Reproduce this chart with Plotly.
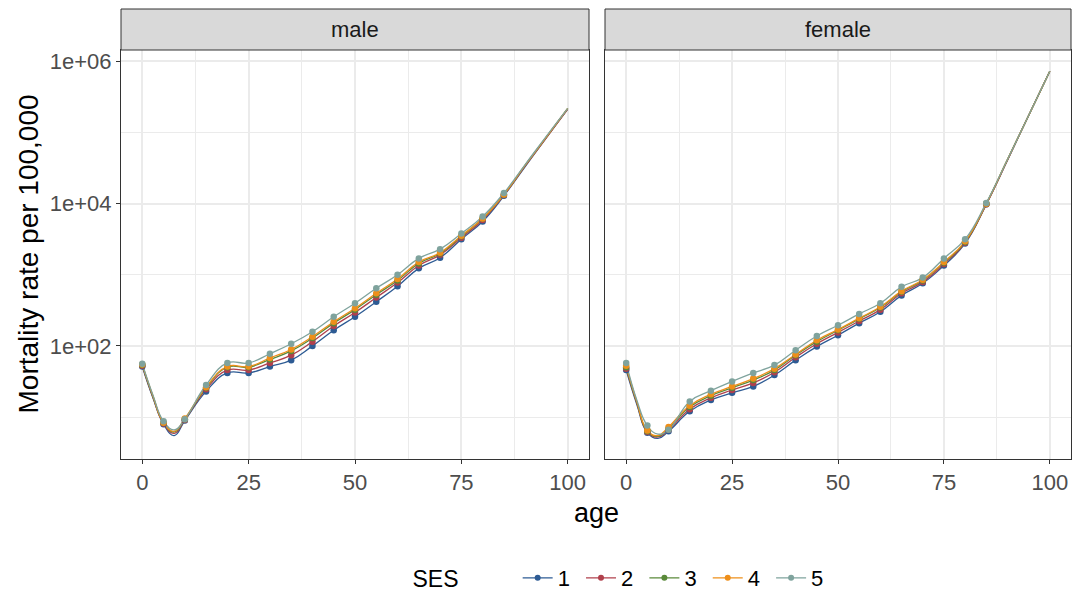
import plotly.graph_objects as go

# ---------------- data (log10 of mortality rate per 100,000) ----------------
line_ages = [0, 2.5, 5, 7.5, 10, 15, 20, 25, 30, 35, 40, 45, 50, 55, 60, 65, 70, 75, 80, 85, 90, 95, 100]
point_ages = [0, 5, 10, 15, 20, 25, 30, 35, 40, 45, 50, 55, 60, 65, 70, 75, 80, 85]
ses_levels = ["1", "2", "3", "4", "5"]

male_ses1 = [1.71, 1.27, 0.90, 0.74, 0.95, 1.36, 1.62, 1.62, 1.71, 1.80, 2.00, 2.22, 2.41, 2.62, 2.84, 3.09, 3.24, 3.50, 3.75, 4.11, 4.52, 4.93, 5.33]
male_ses2 = [1.72, 1.28, 0.91, 0.77, 0.96, 1.39, 1.66, 1.66, 1.76, 1.87, 2.06, 2.28, 2.47, 2.68, 2.89, 3.13, 3.28, 3.52, 3.77, 4.12, 4.53, 4.93, 5.33]
male_ses3 = [1.73, 1.29, 0.92, 0.79, 0.97, 1.41, 1.70, 1.70, 1.81, 1.93, 2.11, 2.32, 2.51, 2.72, 2.92, 3.16, 3.30, 3.54, 3.79, 4.13, 4.54, 4.94, 5.34]
male_ses4 = [1.74, 1.30, 0.92, 0.80, 0.98, 1.42, 1.71, 1.71, 1.83, 1.95, 2.13, 2.34, 2.53, 2.74, 2.94, 3.18, 3.31, 3.55, 3.79, 4.13, 4.54, 4.94, 5.34]
male_ses5 = [1.75, 1.31, 0.94, 0.82, 0.97, 1.45, 1.76, 1.76, 1.89, 2.03, 2.20, 2.41, 2.60, 2.81, 3.00, 3.23, 3.36, 3.58, 3.82, 4.15, 4.55, 4.95, 5.34]

female_ses1 = [1.66, 1.18, 0.78, 0.70, 0.80, 1.08, 1.24, 1.34, 1.43, 1.59, 1.80, 1.99, 2.15, 2.32, 2.48, 2.71, 2.88, 3.13, 3.44, 3.99, 4.61, 5.24, 5.86]
female_ses2 = [1.68, 1.20, 0.79, 0.72, 0.82, 1.11, 1.27, 1.38, 1.48, 1.63, 1.84, 2.03, 2.19, 2.35, 2.51, 2.74, 2.90, 3.15, 3.45, 3.99, 4.61, 5.24, 5.86]
female_ses3 = [1.70, 1.21, 0.80, 0.73, 0.84, 1.14, 1.30, 1.41, 1.52, 1.66, 1.87, 2.06, 2.22, 2.38, 2.54, 2.76, 2.92, 3.17, 3.46, 4.00, 4.62, 5.24, 5.86]
female_ses4 = [1.72, 1.22, 0.81, 0.74, 0.86, 1.16, 1.32, 1.43, 1.54, 1.68, 1.88, 2.08, 2.23, 2.39, 2.55, 2.77, 2.93, 3.18, 3.47, 4.00, 4.62, 5.24, 5.86]
female_ses5 = [1.76, 1.24, 0.88, 0.76, 0.82, 1.22, 1.37, 1.50, 1.62, 1.73, 1.94, 2.14, 2.29, 2.45, 2.60, 2.83, 2.96, 3.23, 3.50, 4.01, 4.62, 5.24, 5.86]

x_tick_vals = [0, 25, 50, 75, 100]
y_tick_vals = [1e2, 1e4, 1e6]
y_tick_text = ["1e+02", "1e+04", "1e+06"]
panel_labels = ["male", "female"]

colors = ["#2d5b94", "#b0404c", "#5a8a3a", "#ee8f1a", "#7fa39d"]

male = [male_ses1, male_ses2, male_ses3, male_ses4, male_ses5]
female = [female_ses1, female_ses2, female_ses3, female_ses4, female_ses5]

FONT = "Liberation Sans"
fig = go.Figure()

point_idx = [line_ages.index(a) for a in point_ages]

for panel, (series, xa, ya) in enumerate([(male, "x", "y"), (female, "x2", "y2")]):
    for k, vals in enumerate(series):
        rates = [10 ** v for v in vals]
        fig.add_trace(go.Scatter(
            x=line_ages, y=rates, mode="lines", xaxis=xa, yaxis=ya,
            line=dict(color=colors[k], width=1.3, shape="spline", smoothing=1.3),
            showlegend=False, hoverinfo="skip"))
    for k, vals in enumerate(series):
        rates = [10 ** vals[i] for i in point_idx]
        fig.add_trace(go.Scatter(
            x=point_ages, y=rates, mode="markers", xaxis=xa, yaxis=ya,
            marker=dict(color=colors[k], size=6.5),
            showlegend=False))

for k, lev in enumerate(ses_levels):
    fig.add_trace(go.Scatter(
        x=[None], y=[None], mode="lines+markers", name=lev + " ",
        line=dict(color=colors[k], width=1.3), marker=dict(color=colors[k], size=6),
        xaxis="x", yaxis="y", showlegend=True))

grid = "#EBEBEB"
axis_common = dict(
    showline=True, linecolor="#333333", linewidth=1, mirror=True,
    ticks="outside", ticklen=4, tickwidth=1, tickcolor="#333333",
    tickfont=dict(family=FONT, size=22, color="#4D4D4D"),
    showgrid=True, gridcolor=grid, gridwidth=1.6, zeroline=False,
)

d1 = [0, (589 - 121) / 950]
d2 = [(605 - 121) / 950, 1]

xcommon = dict(axis_common, range=[-5, 105], tickvals=x_tick_vals,
               minor=dict(tickvals=[12.5, 37.5, 62.5, 87.5], showgrid=True, gridcolor=grid, gridwidth=0.9, ticklen=0))
ycommon = dict(axis_common, type="log", range=[0.41, 6.16], tickvals=y_tick_vals, ticktext=y_tick_text,
               minor=dict(tickvals=[1e1, 1e3, 1e5], showgrid=True, gridcolor=grid, gridwidth=0.9, ticklen=0))

fig.update_layout(
    width=1075, height=594,
    margin=dict(l=121, r=4, t=50, b=135, autoexpand=False),
    paper_bgcolor="white", plot_bgcolor="white",
    xaxis=dict(xcommon, domain=d1, anchor="y"),
    xaxis2=dict(xcommon, domain=d2, anchor="y2"),
    yaxis=dict(ycommon, anchor="x"),
    yaxis2=dict(ycommon, anchor="x2", showticklabels=False, ticks=""),
    font=dict(family=FONT, color="#000000"),
    legend=dict(
        orientation="h", xref="paper", x=0.5279, xanchor="center",
        yref="container", y=1 - 578 / 594, yanchor="middle",
        title=dict(text="SES        ", side="left", font=dict(family=FONT, size=23, color="#000000")),
        font=dict(family=FONT, size=22, color="#000000"),
        itemwidth=30, tracegroupgap=0, bgcolor="rgba(0,0,0,0)",
    ),
    showlegend=True,
)

strip_top = 1 + 41 / 409
for dom, lab in zip([d1, d2], panel_labels):
    fig.add_shape(type="rect", xref="paper", yref="paper", x0=dom[0], x1=dom[1], y0=1, y1=strip_top,
                  fillcolor="#D9D9D9", line=dict(color="#333333", width=1), layer="above")
    fig.add_annotation(text=lab, xref="paper", yref="paper", x=(dom[0] + dom[1]) / 2, y=(1 + strip_top) / 2,
                       showarrow=False, font=dict(family=FONT, size=22, color="#1A1A1A"),
                       xanchor="center", yanchor="middle")

fig.add_annotation(text="age", xref="paper", yref="paper", x=0.5, y=(459 - 513) / 409,
                   showarrow=False, font=dict(family=FONT, size=27, color="#000000"),
                   xanchor="center", yanchor="middle")
fig.add_annotation(text="Mortality rate per 100,000", xref="paper", yref="paper", x=(28 - 121) / 950, y=0.5,
                   textangle=-90, showarrow=False, font=dict(family=FONT, size=28, color="#000000"),
                   xanchor="center", yanchor="middle")

# remove the default page margin so the 1075x594 figure fills the window exactly
fig.write_html("out.html", config={"displayModeBar": False},
               post_script="document.body.style.margin='0';document.body.style.overflow='hidden';")
